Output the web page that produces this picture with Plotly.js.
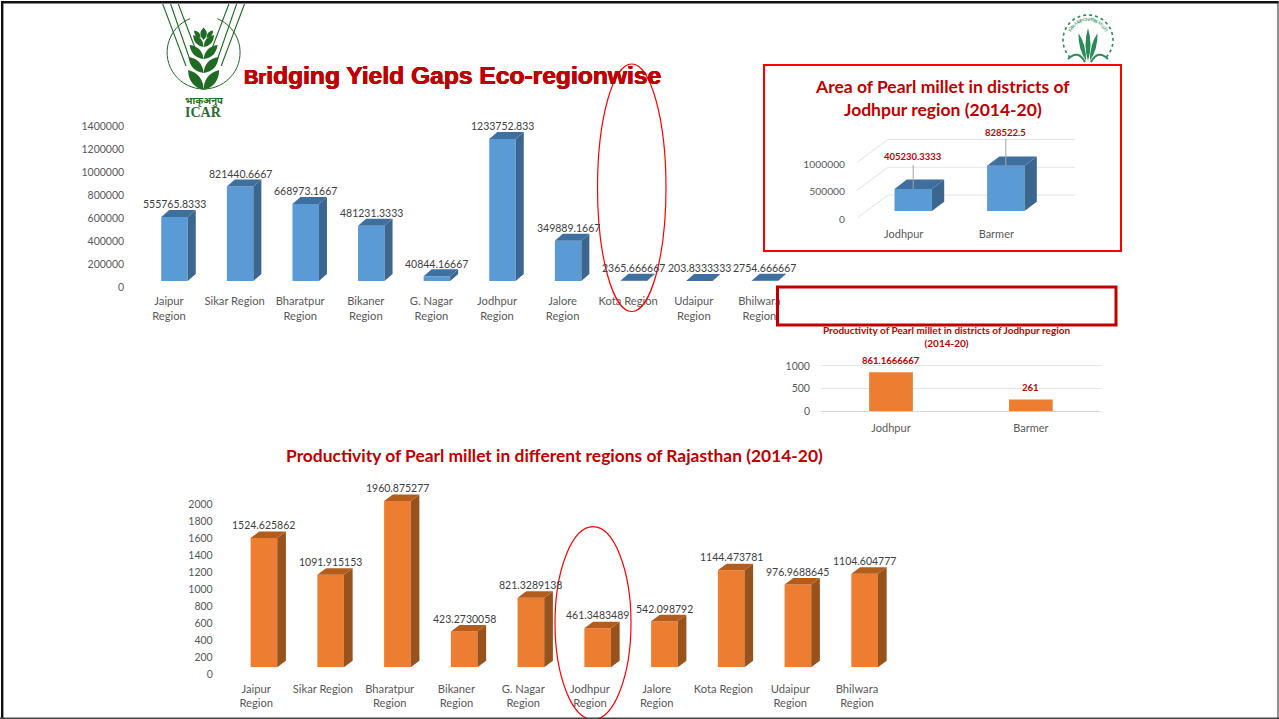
<!DOCTYPE html>
<html>
<head>
<meta charset="utf-8">
<script src="https://cdn.plot.ly/plotly-3.0.1.min.js"></script>
<style>html,body{margin:0;padding:0;background:#fff;overflow:hidden}#chart{width:1279px;height:719px}</style>
</head>
<body>
<div id="chart"></div>
<script>
// Pearl millet area and productivity, Rajasthan, 2014-20
const regionLabels = ['Jaipur<br>Region','Sikar Region','Bharatpur<br>Region','Bikaner<br>Region','G. Nagar<br>Region','Jodhpur<br>Region','Jalore<br>Region','Kota Region','Udaipur<br>Region','Bhilwara<br>Region'];
const regionArea = [555765.8333,821440.6667,668973.1667,481231.3333,40844.16667,1233752.833,349889.1667,2365.666667,203.8333333,2754.666667];
const regionAreaText = ['555765.8333','821440.6667','668973.1667','481231.3333','40844.16667','1233752.833','349889.1667','2365.666667','203.8333333','2754.666667'];
const regionYield = [1524.625862,1091.915153,1960.875277,423.2730058,821.3289138,461.3483489,542.098792,1144.473781,976.9688645,1104.604777];
const regionYieldText = ['1524.625862','1091.915153','1960.875277','423.2730058','821.3289138','461.3483489','542.098792','1144.473781','976.9688645','1104.604777'];
const districtLabels = ['Jodhpur','Barmer'];
const districtArea = [405230.3333,828522.5];
const districtAreaText = ['405230.3333','828522.5'];
const districtYield = [861.1666667,261];
const districtYieldText = ['861.1666667','261'];
const areaTicks = [0,200000,400000,600000,800000,1000000,1200000,1400000];
const yieldTicks = [0,200,400,600,800,1000,1200,1400,1600,1800,2000];
const districtAreaTicks = [0,500000,1000000];
const districtYieldTicks = [0,500,1000];

const W = 1279, H = 719;
const RED = '#c00000', GREY = '#595959', DARK = '#404040', LOGO = '#1f6b24';
const BLUE = {front:'#5b9bd5', side:'#3a668f', top:'#3f6f9f'};
const ORANGE = {front:'#ed7d31', side:'#98531d', top:'#b35c1c'};
const FONT = 'Lato, Carlito, sans-serif';

const px = x => x / W;
const py = y => 1 - y / H;
const idx = a => a.map((_, i) => i);

// One panel's axes placed by pixel geometry: x0/step locate the category slots, y0/scale the values.
function panel(cfg) {
  const left = cfg.x0 + cfg.rangeX[0] * cfg.step;
  const right = cfg.x0 + cfg.rangeX[1] * cfg.step;
  const bottom = cfg.y0 - cfg.rangeY[0] * cfg.scale;
  const top = cfg.y0 - cfg.rangeY[1] * cfg.scale;
  return {
    x: {domain:[px(left), px(right)], range:cfg.rangeX, anchor:cfg.ya, tickmode:'array', tickvals:idx(cfg.labels), ticktext:cfg.labels,
        showgrid:false, zeroline:false, showline:false, ticks:'outside', ticklen:cfg.xTickGap, tickcolor:'rgba(0,0,0,0)',
        tickfont:{family:FONT, size:cfg.fontX, color:GREY}, tickangle:0, fixedrange:true},
    y: {domain:[py(bottom), py(top)], range:cfg.rangeY, anchor:cfg.xa, tickmode:'array', tickvals:cfg.ticks, ticktext:cfg.ticks.map(String),
        showgrid:!!cfg.grid, gridcolor:'#e6e6e6', gridwidth:1, zeroline:!!cfg.grid, zerolinecolor:'#d9d9d9', zerolinewidth:1, showline:false, ticks:'outside', ticklen:cfg.yTickGap, tickcolor:'rgba(0,0,0,0)',
        ticklabelshift:cfg.labelShift || 0, tickfont:{family:FONT, size:cfg.fontY, color:GREY}, fixedrange:true}
  };
}

const shapes = [], annotations = [], traces = [];

function rectBars(cfg, values, colors, textValues, labelStyle) {
  const wUnits = cfg.barW / cfg.step;
  const off = cfg.barShift / cfg.step;
  traces.push({type:'bar', x:idx(values), y:values, xaxis:cfg.xa, yaxis:cfg.ya, width:wUnits, offset:off - wUnits / 2,
               marker:{color:colors.front, line:{width:0}}, hoverinfo:'skip', showlegend:false});
  values.forEach((v, i) => {
    const a = i + off - wUnits / 2, b = a + wUnits;
    if (cfg.depthX) {
      const dx = cfg.depthX / cfg.step, dy = cfg.depthY / cfg.scale;
      shapes.push({type:'path', xref:cfg.xa, yref:cfg.ya, layer:'above', line:{width:0}, fillcolor:colors.side,
        path:`M${b},0 L${b + dx},${dy} L${b + dx},${v + dy} L${b},${v} Z`});
      shapes.push({type:'path', xref:cfg.xa, yref:cfg.ya, layer:'above', line:{width:0}, fillcolor:colors.top,
        path:`M${a},${v} L${a + dx},${v + dy} L${b + dx},${v + dy} L${b},${v} Z`});
    }
    annotations.push(Object.assign({x:i + off, y:v, xref:cfg.xa, yref:cfg.ya, text:textValues[i], showarrow:false,
      xanchor:'center', yanchor:'middle'}, labelStyle(i)));
  });
}

// Regional area panel
const areaCfg = {labels:regionLabels, ticks:areaTicks, xa:'x', ya:'y', x0:169, step:65.6, y0:281, scale:115/1e6,
  rangeX:[-0.5,9.5], rangeY:[0,1500000], xTickGap:9.5, yTickGap:9, labelShift:6, barW:26.5, barShift:5.5, depthX:8, depthY:7, fontX:11.2, fontY:10.5};
// Regional productivity panel
const yieldCfg = {labels:regionLabels, ticks:yieldTicks, xa:'x4', ya:'y4', x0:256.2, step:66.75, y0:667.3, scale:84.8/1000,
  rangeX:[-0.5,9.5], rangeY:[0,2200], xTickGap:11, yTickGap:7, labelShift:7, barW:26.6, barShift:7.7, depthX:8.7, depthY:6.5, fontX:11.2, fontY:10.5};
// District area panel, with its receding floor and back wall
const distAreaCfg = {labels:districtLabels, ticks:districtAreaTicks, xa:'x2', ya:'y2', x0:903.7, step:92.6, y0:211, scale:54.5/1e6,
  rangeX:[-0.6,2.0], rangeY:[-200000,1500000], xTickGap:2, yTickGap:0, labelShift:8, barW:37.4, barShift:9.5, depthX:12.3, depthY:9.3, fontX:11, fontY:10.3};
// District productivity panel
const distYieldCfg = {labels:districtLabels, ticks:districtYieldTicks, xa:'x3', ya:'y3', x0:891, step:139.85, y0:411.3, scale:45.3/1000,
  rangeX:[-0.5,1.5], rangeY:[-6,1080], xTickGap:6, yTickGap:8, barW:43.7, barShift:0, grid:true, fontX:11, fontY:10.5};

const plainLabel = () => ({yshift:12.8, font:{family:FONT, size:10.5, color:DARK}});
rectBars(areaCfg, regionArea, BLUE, regionAreaText, plainLabel);
rectBars(yieldCfg, regionYield, ORANGE, regionYieldText, plainLabel);
rectBars(distAreaCfg, districtArea, BLUE, districtAreaText.map(t => `<b>${t}</b>`),
  i => ({yshift:[32,33.5][i], font:{family:FONT, size:9.5, color:RED}}));
rectBars(distYieldCfg, districtYield, {front:ORANGE.front}, districtYieldText.map(t => `<b>${t}</b>`),
  () => ({yshift:12, font:{family:FONT, size:9.5, color:RED}}));

// Wall and floor lines behind the district area bars
const v2 = p => p / distAreaCfg.scale;
const u2 = p => p / distAreaCfg.step;
districtAreaTicks.forEach((t, i) => {
  const frontX = u2(857 - 903.7), backX = u2(888 - 903.7), endX = u2(1075 - 903.7);
  const frontY = t + v2(-7 - i * -0.5), backY = t + v2(16 + i * 0.5);
  shapes.push({type:'path', xref:'x2', yref:'y2', layer:'below', line:{color:'#e3e3e3', width:1},
    path:`M${frontX},${frontY} L${backX},${backY} L${endX},${backY}`});
});
// Leader lines from the district area values down to their bars
districtArea.forEach((v, i) => {
  const cx = i + distAreaCfg.barShift / distAreaCfg.step;
  shapes.push({type:'line', xref:'x2', yref:'y2', layer:'above', x0:cx, x1:cx, y0:v, y1:v + v2([24,27][i]), line:{color:'#a6a6a6', width:1}});
});

// Panel frames, call-out ellipses and page edge
const rectPx = (x0, y0, x1, y1, color, width, type) => shapes.push({type:type || 'rect', xref:'paper', yref:'paper', layer:'above',
  x0:px(x0), x1:px(x1), y0:py(y0), y1:py(y1), line:{color, width}, fillcolor:'rgba(0,0,0,0)'});
rectPx(764, 65, 1121, 251, '#ff0000', 2);
rectPx(777.5, 287, 1116, 325, '#c00000', 3);
rectPx(597.5, 64, 666, 311.5, '#ff0000', 1.2, 'circle');
rectPx(555, 526.7, 631, 719.5, '#ff0000', 1.2, 'circle');
const edge = (x0, y0, x1, y1, color, width) => shapes.push({type:'line', xref:'paper', yref:'paper', layer:'above',
  x0:px(x0), x1:px(x1), y0:py(y0), y1:py(y1), line:{color, width}});
edge(1, 2.2, 1278.5, 2.2, '#111', 2.4);
edge(2.2, 1, 2.2, 719, '#111', 2.4);
edge(1278, 1, 1278, 719, '#222', 1);
edge(0, 718.2, 1279, 718.2, '#444', 1.5);

// Emblems drawn as vector paths in page pixels
const P = (x, y) => `${px(x)},${py(y)}`;
function leaf(x0, y0, x1, y1, bulge, color) {
  const mx = (x0 + x1) / 2, my = (y0 + y1) / 2;
  const nx = -(y1 - y0), ny = x1 - x0, len = Math.hypot(nx, ny);
  const ox = nx / len * bulge, oy = ny / len * bulge;
  shapes.push({type:'path', xref:'paper', yref:'paper', layer:'above', line:{width:0}, fillcolor:color,
    path:`M${P(x0, y0)} Q${P(mx + ox, my + oy)} ${P(x1, y1)} Q${P(mx - ox, my - oy)} ${P(x0, y0)} Z`});
}
function stroke(d, color, width, dash) {
  shapes.push({type:'path', xref:'paper', yref:'paper', layer:'above', line:{color, width, dash:dash || 'solid'}, path:d});
}
function arc(cx, cy, r, a0, a1) {
  let d = '';
  for (let k = 0; k <= 48; k++) {
    const a = (a0 + (a1 - a0) * k / 48) * Math.PI / 180;
    d += (k ? 'L' : 'M') + P(cx + r * Math.cos(a), cy + r * Math.sin(a));
  }
  return d;
}

// ICAR wheat emblem
const cxA = 203.6;
stroke(arc(cxA, 52.5, 36.5, -68, 248), LOGO, 1);
[[162.7,186,66],[170.6,190,60],[178.3,195,48]].forEach(([x0, x1, y1]) => {
  stroke(`M${P(x0, 4)} L${P(x1, y1)}`, LOGO, 1.1);
  stroke(`M${P(2 * cxA - x0, 4)} L${P(2 * cxA - x1, y1)}`, LOGO, 1.1);
});
[[90,70,15.5,9.5],[73,57,15,8.5],[59,45,14,7.5],[47,35,10.5,6.5]].forEach(([y0, y1, dx, b]) => {
  leaf(cxA, y0, cxA - dx, y1, b, LOGO);
  leaf(cxA, y0, cxA + dx, y1, -b, LOGO);
});
leaf(cxA, 40, cxA, 27.5, 6.5, LOGO);
leaf(cxA - 3, 38, cxA - 9.5, 30.5, 4.5, LOGO);
leaf(cxA + 3, 38, cxA + 9.5, 30.5, -4.5, LOGO);
annotations.push({xref:'paper', yref:'paper', x:px(204), y:py(100.5), text:'<b>भाकृअनुप</b>', showarrow:false, xanchor:'center', yanchor:'middle',
  font:{family:'Noto Sans, DejaVu Sans, sans-serif', size:9.5, color:LOGO}});
annotations.push({xref:'paper', yref:'paper', x:px(203.5), y:py(112), text:'<b>ICAR</b>', showarrow:false, xanchor:'center', yanchor:'middle',
  font:{family:'Liberation Serif, serif', size:14, color:'#2d6a33'}});

// Pearl millet project emblem
const MIL = '#2b8a57', cxB = 1088, cyB = 40;
stroke(arc(cxB, cyB, 25, 135, 405), MIL, 1.6, 'dot');
leaf(cxB, 61, cxB, 28, 5, MIL);
leaf(cxB - 2, 61, cxB - 9.5, 33, 4.5, MIL);
leaf(cxB + 2, 61, cxB + 9.5, 33, -4.5, MIL);
stroke(`M${P(cxB - 3, 62)} Q${P(cxB - 10, 49)} ${P(cxB - 20, 59)}`, MIL, 2);
stroke(`M${P(cxB + 3, 62)} Q${P(cxB + 10, 49)} ${P(cxB + 20, 59)}`, MIL, 2);
const ring = 'ICAR-AICRP ON PEARL MILLET'.split('');
ring.forEach((ch, k) => {
  const deg = -152 + k * (124 / (ring.length - 1));
  const a = deg * Math.PI / 180;
  annotations.push({xref:'paper', yref:'paper', x:px(cxB + 20.5 * Math.cos(a)), y:py(cyB + 20.5 * Math.sin(a)), text:ch, showarrow:false,
    textangle:deg + 90, xanchor:'center', yanchor:'middle', font:{family:'Liberation Sans, sans-serif', size:4.5, color:MIL}});
});

// Panel headings
const heading = (x, y, text, size) => annotations.push({xref:'paper', yref:'paper', x:px(x), y:py(y), text:`<b>${text}</b>`, showarrow:false,
  xanchor:'center', yanchor:'middle', align:'center', font:{family:FONT, size, color:RED}});
heading(942.5, 98, 'Area of Pearl millet in districts of<br>Jodhpur region (2014-20)', 17.5);
heading(554, 455, 'Productivity of Pearl millet in different regions of Rajasthan (2014-20)', 17.4);
heading(946.5, 336.5, 'Productivity of Pearl millet in districts of Jodhpur region<br>(2014-20)', 10);

const axes = [areaCfg, distAreaCfg, distYieldCfg, yieldCfg].map(panel);
const layout = {
  width:W, height:H, margin:{l:0, r:0, t:0, b:0}, paper_bgcolor:'#fff', plot_bgcolor:'rgba(0,0,0,0)', showlegend:false, barmode:'overlay',
  title:{text:'<span style="font-size:20px">Br</span>idging Yield Gaps Eco-regionwise', xref:'paper', yref:'paper', x:px(452.5), y:py(75), xanchor:'center', yanchor:'middle',
         font:{family:'Liberation Sans, Arial, sans-serif', size:24.6, color:RED, weight:700, shadow:'0.5px 0 0 #c00000, -0.3px 0 0 #c00000, 0 0.3px 0 #c00000'}},
  xaxis:axes[0].x, yaxis:axes[0].y, xaxis2:axes[1].x, yaxis2:axes[1].y, xaxis3:axes[2].x, yaxis3:axes[2].y, xaxis4:axes[3].x, yaxis4:axes[3].y,
  shapes, annotations
};
Plotly.newPlot('chart', traces, layout, {displayModeBar:false, staticPlot:true});
</script>
</body>
</html>
